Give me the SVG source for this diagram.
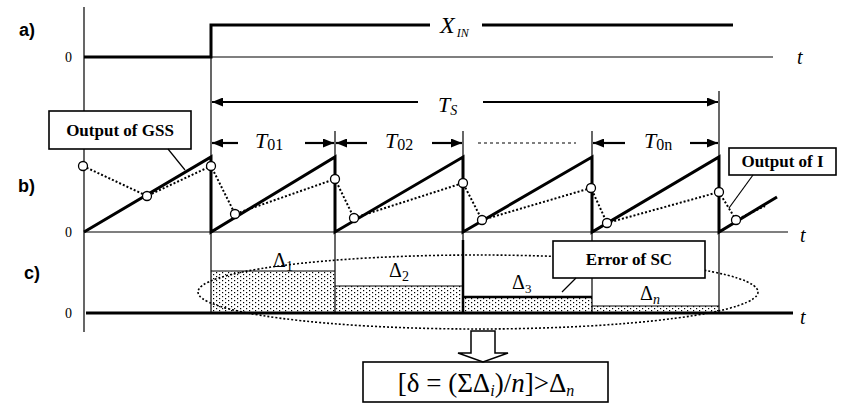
<svg xmlns="http://www.w3.org/2000/svg" width="852" height="412" viewBox="0 0 852 412">
<defs>
<style>
.thin{stroke:#000;stroke-width:1.2;fill:none}
.thick{stroke:#000;stroke-width:3;fill:none}
.dot{stroke:#000;stroke-width:2;stroke-dasharray:2 2;fill:none}
.ell{stroke:#000;stroke-width:1.6;stroke-dasharray:2 2;fill:none}
.circ{fill:#fff;stroke:#000;stroke-width:1.3}
.lbl{font-family:"Liberation Sans",Arial,sans-serif;font-weight:bold;font-size:18px}
.box{fill:#fff;stroke:#000;stroke-width:1.6}
.bt{font-family:"Liberation Serif","Times New Roman",serif;font-weight:bold;font-size:17px;text-anchor:middle}
.m{font-family:"Liberation Serif","Times New Roman",serif;font-style:italic;font-size:22px}
.r{font-family:"Liberation Serif","Times New Roman",serif;font-size:20px}
.n{font-family:"Liberation Serif","Times New Roman",serif;font-size:14px}
.arr{stroke:#000;stroke-width:2.2;fill:none;marker-end:url(#ah)}
</style>
<marker id="ah" viewBox="0 0 11 9" refX="11" refY="4.5" markerWidth="11" markerHeight="9" markerUnits="userSpaceOnUse" orient="auto"><path d="M0,0 L11,4.5 L0,9 z" fill="#000"/></marker>
<pattern id="dots" width="6" height="4" patternUnits="userSpaceOnUse"><rect width="1.2" height="1.2" fill="#000"/><rect x="3" y="2" width="1.2" height="1.2" fill="#000"/></pattern>
</defs>
<rect width="852" height="412" fill="#fff"/>

<g id="axes">
<line class="thin" x1="84" y1="7" x2="84" y2="332"/>
<line class="thin" x1="84" y1="57" x2="773" y2="57"/>
<line class="thin" x1="84" y1="232" x2="788" y2="232"/>
<line class="thin" x1="211" y1="25" x2="211" y2="313"/>
<line class="thin" x1="335" y1="131" x2="335" y2="313"/>
<line class="thin" x1="463" y1="131" x2="463" y2="313"/>
<line class="thin" x1="592" y1="131" x2="592" y2="313"/>
<line class="thin" x1="719" y1="91" x2="719" y2="313"/>
<text class="lbl" x="19" y="36">a)</text>
<text class="lbl" x="18" y="192">b)</text>
<text class="lbl" x="24" y="279">c)</text>
<text class="n" x="65" y="62">0</text>
<text class="n" x="65" y="237">0</text>
<text class="n" x="65" y="318">0</text>
<text class="m" x="797" y="64" style="font-size:20px">t</text>
<text class="m" x="800" y="242" style="font-size:20px">t</text>
<text class="m" x="800" y="324" style="font-size:20px">t</text>
</g>

<g id="signal-a">
<polyline class="thick" points="84,57 211,57 211,25 430,25"/>
<line class="thick" x1="482" y1="25" x2="733" y2="25"/>
<text class="m" x="440" y="33" style="font-size:24px">X<tspan style="font-size:12px" dx="2" dy="4">IN</tspan></text>
</g>

<g id="sawtooth-b">
<polyline class="thick" points="84,232 211,157 211,232 335,157 335,232 463,157 463,232 592,157 592,232 719,157 719,232 777,197"/>
<polyline class="dot" points="83,166 147,196 211,166 235,214 335,179 354,218 463,183 482,220 591,188 607,223 719,192 736,220 765,206"/>
<circle class="circ" cx="83" cy="166" r="4.5"/>
<circle class="circ" cx="147" cy="196" r="4.5"/>
<circle class="circ" cx="211" cy="166" r="4.5"/>
<circle class="circ" cx="235" cy="214" r="4.5"/>
<circle class="circ" cx="335" cy="179" r="4.5"/>
<circle class="circ" cx="354" cy="218" r="4.5"/>
<circle class="circ" cx="463" cy="183" r="4.5"/>
<circle class="circ" cx="482" cy="220" r="4.5"/>
<circle class="circ" cx="591" cy="188" r="4.5"/>
<circle class="circ" cx="607" cy="223" r="4.5"/>
<circle class="circ" cx="719" cy="192" r="4.5"/>
<circle class="circ" cx="736" cy="220" r="4.5"/>
</g>

<g id="periods">
<line class="arr" x1="418" y1="102" x2="212" y2="102"/>
<line class="arr" x1="483" y1="102" x2="718" y2="102"/>
<text class="m" x="438" y="112">T<tspan style="font-size:14px" dy="3">S</tspan></text>
<line class="arr" x1="238" y1="143" x2="212" y2="143"/>
<line class="arr" x1="305" y1="143" x2="334" y2="143"/>
<text class="m" x="255" y="148">T<tspan style="font-style:normal;font-size:16px" dy="2">01</tspan></text>
<line class="arr" x1="367" y1="143" x2="336" y2="143"/>
<line class="arr" x1="432" y1="143" x2="462" y2="143"/>
<text class="m" x="385" y="148">T<tspan style="font-style:normal;font-size:16px" dy="2">02</tspan></text>
<line class="thin" x1="478" y1="143" x2="576" y2="143" stroke-dasharray="3 3"/>
<line class="arr" x1="625" y1="143" x2="593" y2="143"/>
<line class="arr" x1="690" y1="143" x2="718" y2="143"/>
<text class="m" x="644" y="148">T<tspan style="font-style:normal;font-size:16px" dy="2">0n</tspan></text>
</g>

<g id="errors-c">
<rect x="211" y="271" width="124" height="42" fill="url(#dots)"/>
<rect x="335" y="286" width="128" height="27" fill="url(#dots)"/>
<rect x="463" y="297" width="129" height="16" fill="url(#dots)"/>
<rect x="592" y="306" width="127" height="7" fill="url(#dots)"/>
<line class="thin" x1="211" y1="271" x2="335" y2="271"/>
<line class="thin" x1="335" y1="286" x2="463" y2="286"/>
<line stroke="#000" stroke-width="2.5" x1="463" y1="297" x2="592" y2="297"/>
<line class="thin" x1="592" y1="306" x2="719" y2="306"/>
<line stroke="#000" stroke-width="2.5" x1="463" y1="240" x2="463" y2="313"/>
<line class="thick" x1="86" y1="313" x2="793" y2="313"/>
<text class="r" x="273" y="267">Δ<tspan style="font-size:14px" dy="4">1</tspan></text>
<text class="r" x="389" y="277">Δ<tspan style="font-size:14px" dy="4">2</tspan></text>
<text class="r" x="512" y="289">Δ<tspan style="font-size:13px" dy="4">3</tspan></text>
<text class="r" x="640" y="300">Δ<tspan style="font-size:14px;font-style:italic" dy="4">n</tspan></text>
<ellipse class="ell" cx="478" cy="292" rx="280" ry="37"/>
</g>

<g id="node-gss">
<rect class="box" x="49" y="111" width="142" height="38"/>
<text class="bt" x="120" y="136">Output of GSS</text>
</g>
<g id="node-i">
<rect class="box" x="729" y="148" width="107" height="27"/>
<text class="bt" x="782.5" y="167">Output of I</text>
</g>
<g id="node-sc">
<rect class="box" x="553" y="241" width="152" height="37"/>
<text class="bt" x="629" y="265">Error of SC</text>
</g>
<g id="node-formula">
<rect class="box" x="363" y="362" width="245" height="40"/>
<text class="r" x="486" y="392" style="font-size:27px" text-anchor="middle">[δ = (ΣΔ<tspan style="font-style:italic;font-size:16px" dy="4">i</tspan><tspan dy="-4">)/</tspan><tspan style="font-style:italic">n</tspan>]&gt;Δ<tspan style="font-style:italic;font-size:16px" dy="4">n</tspan></text>
</g>

<g id="connectors">
<line class="thin" x1="168" y1="149" x2="185" y2="170"/>
<line class="thin" x1="753" y1="175" x2="729" y2="208"/>
<line class="thin" x1="576" y1="278" x2="562" y2="292"/>
<polygon points="471,331 495,331 495,353 508,353 483,362 458,353 471,353" fill="#fff" stroke="#000" stroke-width="1.5"/>
</g>
</svg>
